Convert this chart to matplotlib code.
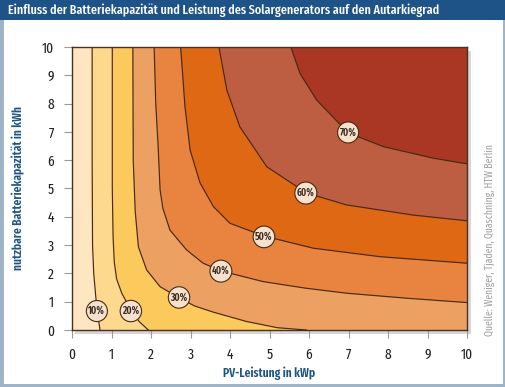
import matplotlib

matplotlib.use("Agg")
import matplotlib.pyplot as plt
from matplotlib.patches import Rectangle

plt.rcParams["font.family"] = ["Fira Sans Extra Condensed", "DejaVu Sans"]

# contour lines (x = PV kWp, y = battery kWh)
levels = ["10%", "20%", "30%", "40%", "50%", "60%", "70%"]
c10_x = [0.51, 0.51, 0.52, 0.55, 0.60, 0.64, 0.71]
c10_y = [10, 6, 3, 2, 1.2, 0.65, 0]
c20_x = [1.02, 1.02, 1.04, 1.07, 1.13, 1.26, 1.51, 1.70, 1.93]
c20_y = [10, 5, 3.3, 2.4, 1.8, 1.30, 0.65, 0.3, 0]
c30_x = [1.54, 1.55, 1.60, 1.68, 1.89, 2.23, 2.71, 3.10, 3.58, 4.42, 5.20, 5.94]
c30_y = [10, 6, 4.2, 2.94, 2.12, 1.53, 1.14, 0.85, 0.63, 0.30, 0.08, 0]
c40_x = [2.08, 2.12, 2.18, 2.23, 2.30, 2.48, 2.90, 3.32, 3.79, 4.84, 5.90, 6.95, 8.50, 10]
c40_y = [10, 8, 6.5, 4.95, 4.3, 3.53, 2.83, 2.36, 2.08, 1.71, 1.48, 1.30, 1.12, 0.97]
c50_x = [2.75, 2.86, 2.99, 3.24, 3.58, 4.00, 4.86, 6.11, 7.80, 10]
c50_y = [10, 7.89, 6.36, 5.2, 4.36, 3.77, 3.32, 2.89, 2.59, 2.36]
c60_x = [3.72, 3.92, 4.25, 4.93, 5.69, 5.94, 6.95, 8.64, 10]
c60_y = [10, 8.48, 7.18, 5.77, 5.07, 4.84, 4.42, 4.06, 3.86]
c70_x = [5.54, 5.77, 6.19, 6.99, 7.88, 9.15, 10]
c70_y = [10, 9.07, 8.13, 6.97, 6.48, 6.07, 5.87]
curves = [(c10_x, c10_y), (c20_x, c20_y), (c30_x, c30_y), (c40_x, c40_y),
          (c50_x, c50_y), (c60_x, c60_y), (c70_x, c70_y)]

label_x = [0.63, 1.49, 2.71, 3.77, 4.86, 5.92, 6.99]
label_y = [0.67, 0.67, 1.15, 2.08, 3.29, 4.84, 6.98]

band_colors = ["#fde6c0", "#fdd98e", "#fcca5c", "#eca062", "#e8843f",
               "#de6814", "#bd5e42", "#a93723"]
blue = "#1d5387"

fig = plt.figure(figsize=(5.06, 3.87), dpi=100)
fig.patch.set_facecolor("white")

# outer frame, title bar
fig.patches.append(Rectangle((0, 0), 1, 1, transform=fig.transFigure,
                             fill=False, ec="#9fb3c6", lw=5, zorder=0))
fig.patches.append(Rectangle((0, 1 - 20 / 387), 1, 20 / 387,
                             transform=fig.transFigure, fc=blue,
                             ec="none", zorder=0))
fig.text(8 / 506, 1 - 10 / 387,
         "Einfluss der Batteriekapazität und Leistung des Solargenerators auf den Autarkiegrad",
         color="white", fontsize=9.5, fontweight="medium",
         va="center", ha="left")

ax = fig.add_axes([72 / 506, 57 / 387, 395 / 506, 283 / 387], zorder=2)
# drop shadow
fig.patches.append(Rectangle((75 / 506, 53 / 387), 396 / 506, 283 / 387,
                             transform=fig.transFigure, fc="#d6d6d6",
                             ec="none", zorder=1))

ax.set_facecolor(band_colors[0])
ax.set_xlim(0, 10)
ax.set_ylim(0, 10)
for (xs, ys), col in zip(curves, band_colors[1:]):
    px = list(xs)
    py = list(ys)
    if py[-1] == 0:
        px.append(10)
        py.append(0)
    px.append(10)
    py.append(10)
    ax.fill(px, py, color=col, lw=0, zorder=1)
for xs, ys in curves:
    ax.plot(xs, ys, color="#4a2814", lw=0.85, zorder=2)

for lx, ly, lab in zip(label_x, label_y, levels):
    ax.text(lx, ly, lab, ha="center", va="center", fontsize=7.5,
            fontweight="semibold", color="#3a2a20", zorder=4,
            bbox=dict(boxstyle="circle,pad=0.2", fc="#f6e1cd",
                      ec="#4a2814", lw=0.8))

for s in ax.spines.values():
    s.set_color("#4a3020")
    s.set_linewidth(1.0)

ax.set_xticks(range(0, 11))
ax.set_yticks(range(0, 11))
ax.tick_params(length=6, width=0.8, color="#9a9a9a", pad=7,
               labelsize=10.5, labelcolor="#222222")
ax.set_xlabel("PV-Leistung in kWp", color=blue, fontsize=9,
              fontweight="semibold")
ax.set_ylabel("nutzbare Batteriekapazität in kWh", color=blue,
              fontsize=9, fontweight="semibold")
ax.xaxis.set_label_coords(0.5, -37 / 283)
ax.yaxis.set_label_coords(-47 / 395, 0.5)

fig.text(490 / 506, 1 - 240 / 387,
         "Quelle: Weniger, Tjaden, Quaschning, HTW Berlin",
         rotation=90, color="#a0a0a0", fontsize=7.5, ha="center", va="center")

fig.savefig("out.png", dpi=100)
